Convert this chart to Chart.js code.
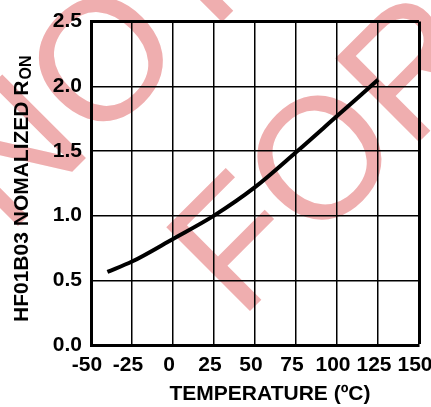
<!DOCTYPE html>
<html>
<head>
<meta charset="utf-8">
<script src="https://cdn.jsdelivr.net/npm/chart.js@4.4.1/dist/chart.umd.min.js"></script>
<style>
    html, body {margin: 0; padding: 0; background: #fff;}
    #wrap {width: 431px; height: 407px; position: relative;}
</style>
</head>
<body>
<div id="wrap"><canvas id="chart"></canvas></div>
<script>
// Values
const temperatures = [-40, -25, 0, 25, 50, 75, 100, 125];
const normalizedRon = [0.565, 0.645, 0.82, 1.0, 1.22, 1.49, 1.77, 2.05];

const xTicks = [-50, -25, 0, 25, 50, 75, 100, 125, 150];
const yTicks = [0, 0.5, 1.0, 1.5, 2.0, 2.5];

const yTitleMain = "HF01B03 NOMALIZED R";
const yTitleSub = "ON";
const xTitle = "TEMPERATURE (ºC)";

const watermarkLines = ["NOT RECOMMENDED", "FOR NEW DESIGNS"];

const FONT = "'Liberation Sans', Arial, sans-serif";

// pink watermark behind everything
const watermark = {
    id: "watermark",
    beforeDraw(chart) {
        const ctx = chart.ctx;
        ctx.save();
        ctx.fillStyle = "#efaeaf";
        ctx.font = "172px " + FONT;
        ctx.textBaseline = "alphabetic";
        ctx.textAlign = "left";
        const origins = [[8, 236], [240, 321]];
        watermarkLines.forEach((txt, i) => {
            ctx.save();
            ctx.translate(origins[i][0], origins[i][1]);
            ctx.rotate(-Math.PI / 4);
            ctx.fillText(txt, 0, 0);
            ctx.restore();
        });
        ctx.restore();
    },
};

// axis titles (y one has the subscript "ON")
const axisTitles = {
    id: "axisTitles",
    afterDraw(chart) {
        const ctx = chart.ctx;
        ctx.save();
        ctx.fillStyle = "#000";
        ctx.textBaseline = "alphabetic";

        ctx.font = "bold 21px " + FONT;
        ctx.textAlign = "center";
        ctx.fillText(xTitle, 270, 400);

        ctx.translate(28, 322);
        ctx.rotate(-Math.PI / 2);
        ctx.textAlign = "left";
        ctx.fillText(yTitleMain, 0, 0);
        const w = ctx.measureText(yTitleMain).width;
        ctx.font = "bold 16px " + FONT;
        ctx.fillText(yTitleSub, w + 1, 3);
        ctx.restore();
    },
};

// top and right edges of the frame are drawn heavy
const edgeWidth = (max) => (c) => (c.tick && c.tick.value === max ? 3 : 1.5);

new Chart(document.getElementById("chart"), {
    type: "line",
    data: {
        datasets: [
            {
                data: temperatures.map((t, i) => ({x: t, y: normalizedRon[i]})),
                borderColor: "#000",
                borderWidth: 4,
                pointRadius: 0,
                fill: false,
                cubicInterpolationMode: "monotone",
            },
        ],
    },
    options: {
        responsive: true,
        maintainAspectRatio: false,
        animation: false,
        layout: {
            padding: {left: 0, right: 12, top: 16, bottom: 0},
        },
        plugins: {
            legend: {display: false},
            tooltip: {enabled: false},
        },
        scales: {
            x: {
                type: "linear",
                min: -50,
                max: 150,
                afterBuildTicks: (scale) => {
                    scale.ticks = xTicks.map((v) => ({value: v}));
                },
                afterFit: (scale) => {
                    scale.height = 62;
                    scale.paddingLeft = 0;
                    scale.paddingRight = 0;
                },
                grid: {color: "#000", lineWidth: edgeWidth(150), drawTicks: false},
                border: {color: "#000", width: 3},
                ticks: {
                    color: "#000",
                    font: {family: FONT, size: 21, weight: "bold"},
                    padding: 8,
                    labelOffset: -4,
                    maxRotation: 0,
                    autoSkip: false,
                },
            },
            y: {
                min: 0,
                max: 2.5,
                afterBuildTicks: (scale) => {
                    scale.ticks = yTicks.map((v) => ({value: v}));
                },
                afterFit: (scale) => {
                    scale.width = 91;
                },
                grid: {color: "#000", lineWidth: edgeWidth(2.5), drawTicks: false},
                border: {color: "#000", width: 3},
                ticks: {
                    color: "#000",
                    font: {family: FONT, size: 21, weight: "bold"},
                    padding: 9,
                    callback: (v) => v.toFixed(1),
                },
            },
        },
    },
    plugins: [watermark, axisTitles],
});
</script>
</body>
</html>
